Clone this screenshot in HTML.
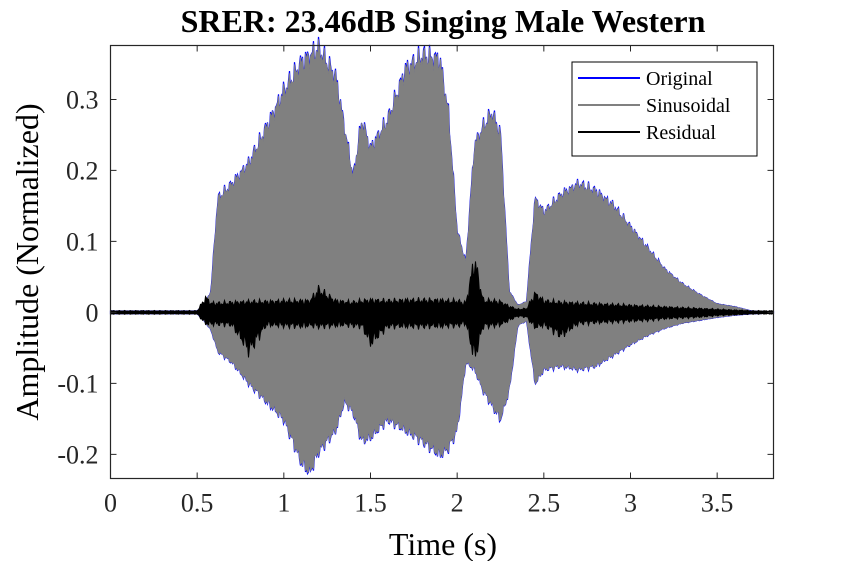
<!DOCTYPE html>
<html><head><meta charset="utf-8"><style>
body{margin:0;background:#fff}
svg{display:block;font-family:"Liberation Serif",serif}
</style></head><body>
<svg id="chart" width="856" height="561">
<text x="443" y="32" text-anchor="middle" font-size="32" font-weight="bold">SRER: 23.46dB Singing Male Western</text>
<g id="plot"></g>
<text x="443" y="555" text-anchor="middle" font-size="32">Time (s)</text>
<text transform="translate(38,262) rotate(-90)" text-anchor="middle" font-size="32">Amplitude (Normalized)</text>
<g>
<rect x="572" y="62" width="185" height="94" fill="#fff" stroke="#000" stroke-width="1"/>
<g><line x1="578" y1="78" x2="640" y2="78" stroke="#0000ff" stroke-width="2"/><text x="646" y="85" font-size="20">Original</text></g>
<g><line x1="578" y1="105" x2="640" y2="105" stroke="#808080" stroke-width="2"/><text x="646" y="112" font-size="20">Sinusoidal</text></g>
<g><line x1="578" y1="132" x2="640" y2="132" stroke="#000" stroke-width="2"/><text x="646" y="139" font-size="20">Residual</text></g>
</g>
</svg>
<script>
const times=[0,0.5,0.55,0.58,0.6,0.62,0.7,0.8,0.9,1.0,1.1,1.15,1.2,1.3,1.35,1.4,1.45,1.5,1.6,1.7,1.8,1.9,1.95,2.0,2.05,2.1,2.15,2.2,2.25,2.3,2.35,2.4,2.45,2.5,2.6,2.7,2.8,2.9,3.0,3.1,3.2,3.3,3.4,3.5,3.6,3.7,3.82];
const sinUpper=[0.002,0.002,0.015,0.03,0.1,0.16,0.18,0.21,0.26,0.31,0.35,0.36,0.37,0.33,0.26,0.19,0.27,0.23,0.27,0.34,0.36,0.355,0.28,0.115,0.07,0.235,0.26,0.28,0.25,0.03,0.01,0.015,0.16,0.14,0.165,0.18,0.17,0.15,0.12,0.09,0.06,0.04,0.025,0.012,0.008,0.002,0.001];
const sinLower=[-0.002,-0.002,-0.015,-0.025,-0.04,-0.055,-0.07,-0.1,-0.125,-0.15,-0.21,-0.225,-0.195,-0.165,-0.125,-0.14,-0.18,-0.175,-0.15,-0.165,-0.18,-0.2,-0.19,-0.165,-0.07,-0.08,-0.11,-0.13,-0.15,-0.11,-0.018,-0.012,-0.1,-0.08,-0.075,-0.08,-0.075,-0.06,-0.045,-0.032,-0.022,-0.015,-0.011,-0.007,-0.004,-0.002,-0.001];
const resUpper=[0.002,0.002,0.02,0.012,0.012,0.012,0.013,0.014,0.014,0.015,0.015,0.015,0.03,0.015,0.014,0.013,0.015,0.016,0.015,0.016,0.016,0.016,0.015,0.015,0.012,0.07,0.016,0.015,0.014,0.008,0.004,0.005,0.025,0.015,0.013,0.012,0.011,0.01,0.009,0.008,0.007,0.006,0.005,0.004,0.003,0.002,0.002];
const resLower=[-0.002,-0.002,-0.015,-0.015,-0.015,-0.015,-0.016,-0.05,-0.016,-0.017,-0.018,-0.017,-0.018,-0.017,-0.016,-0.017,-0.018,-0.04,-0.018,-0.018,-0.018,-0.018,-0.017,-0.017,-0.014,-0.06,-0.018,-0.017,-0.016,-0.01,-0.005,-0.006,-0.02,-0.016,-0.03,-0.014,-0.013,-0.012,-0.011,-0.01,-0.008,-0.007,-0.006,-0.004,-0.003,-0.002,-0.002];
const xTicks=[0,0.5,1,1.5,2,2.5,3,3.5];
const xTickLabels=["0","0.5","1","1.5","2","2.5","3","3.5"];
const yTicks=[-0.2,-0.1,0,0.1,0.2,0.3];
const yTickLabels=["-0.2","-0.1","0","0.1","0.2","0.3"];

const L=110.5,R=773.5,T=45.5,B=478.5,X0=0,X1=3.825,Y0=-0.234,Y1=0.376;
const sx=v=>L+(v-X0)/(X1-X0)*(R-L);
const sy=v=>B-(v-Y0)/(Y1-Y0)*(B-T);
const NS="http://www.w3.org/2000/svg";
const g=document.getElementById('plot');
function mk(tag,attrs){const e=document.createElementNS(NS,tag);for(const k in attrs)e.setAttribute(k,attrs[k]);g.appendChild(e);return e;}
function interp(arr,t){for(let i=0;i<times.length-1;i++){if(t<=times[i+1]){const f=(t-times[i])/(times[i+1]-times[i]);return arr[i]+(arr[i+1]-arr[i])*f;}}return arr[arr.length-1];}
function env(up,lo,jit){
  let top=[],bot=[];
  for(let px=L;px<=R;px+=1){const t=X0+(px-L)/(R-L)*(X1-X0);
    const j=jit?(1+jit*Math.sin(px*1.7)*Math.cos(px*0.63)):1;
    top.push(px.toFixed(1)+','+sy(interp(up,t)*j).toFixed(1));
    bot.unshift(px.toFixed(1)+','+sy(interp(lo,t)*j).toFixed(1));}
  return 'M'+top.join('L')+'L'+bot.join('L')+'Z';
}
const orig=mk('path',{d:env(sinUpper,sinLower,0.06),fill:'#0000ff',stroke:'#0000ff','stroke-width':1.2});


const sin=mk('path',{d:env(sinUpper,sinLower,0.05),fill:'#808080',stroke:'#808080','stroke-width':0.6});


const res=mk('path',{d:env(resUpper,resLower,0.35),fill:'#000',stroke:'#000','stroke-width':1});


const frame=mk('rect',{x:L,y:T,width:R-L,height:B-T,fill:'none',stroke:'#262626','stroke-width':1.2});


xTicks.forEach((v,i)=>{
  const x=sx(v);
  const tk=mk('path',{d:`M${x},${B}V${B-6}M${x},${T}V${T+6}`,stroke:'#262626','stroke-width':1});
  
  
  const lb=mk('text',{x:x,y:B+33,'text-anchor':'middle','font-size':26,fill:'#262626'});
  lb.textContent=xTickLabels[i];
  
  
});
yTicks.forEach((v,i)=>{
  const y=sy(v);
  const tk=mk('path',{d:`M${L},${y}H${L+6}M${R},${y}H${R-6}`,stroke:'#262626','stroke-width':1});
  
  
  const lb=mk('text',{x:L-12,y:y+9,'text-anchor':'end','font-size':26,fill:'#262626'});
  lb.textContent=yTickLabels[i];
  
  
});
</script>
</body></html>
